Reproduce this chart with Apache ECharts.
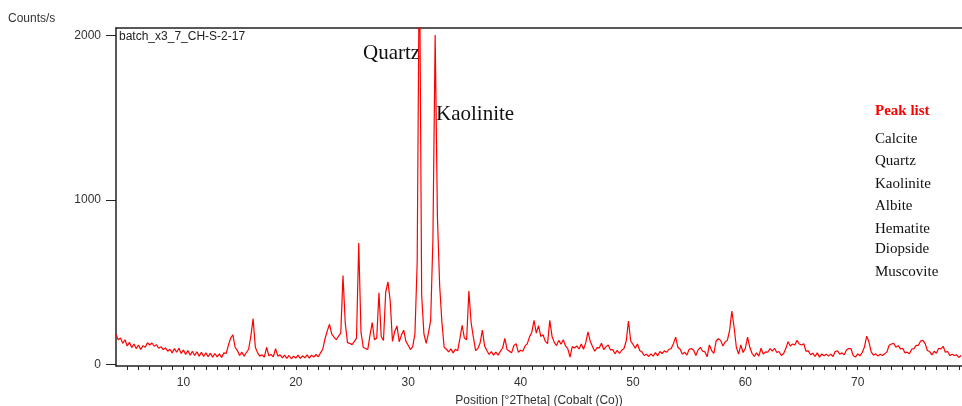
<!DOCTYPE html>
<html>
<head>
<meta charset="utf-8">
<script src="https://cdn.jsdelivr.net/npm/echarts@6/dist/echarts.min.js"></script>
<style>
  html, body { margin: 0; padding: 0; background: #fff; }
  #chart { width: 962px; height: 406px; }
</style>
</head>
<body>
<div id="chart"></div>
<script>
// scan grid: 2theta from 4.0 in steps of 0.2 degrees
const startAngle = 4.0
const stepAngle = 0.2

// counts/s, one row per 2 degrees
const counts = [
  182, 150, 160, 128, 150, 112, 134, 102, 124, 96,    // 4
  118, 90, 114, 104, 132, 118, 130, 110, 120, 98,     // 6
  108, 90, 100, 80, 92, 70, 96, 74, 98, 66,           // 8
  88, 60, 84, 56, 80, 54, 76, 50, 74, 48,             // 10
  70, 46, 68, 44, 66, 46, 64, 42, 70, 66,             // 12
  116, 160, 180, 104, 84, 54, 74, 50, 72, 92,         // 14
  172, 278, 104, 70, 50, 58, 44, 104, 52, 60,         // 16
  46, 96, 50, 58, 40, 56, 36, 54, 34, 50,             // 18
  38, 56, 36, 52, 40, 58, 38, 56, 44, 60,             // 20
  46, 70, 92, 156, 204, 244, 184, 166, 150, 172,      // 22
  190, 540, 250, 132, 128, 120, 138, 160, 738, 196,   // 24
  104, 96, 90, 176, 254, 150, 160, 436, 170, 146,     // 26
  440, 502, 386, 140, 200, 234, 138, 178, 208, 140,   // 28
  116, 90, 108, 186, 620, 2600, 420, 186, 128, 190,   // 30
  268, 760, 2005, 900, 480, 256, 104, 92, 76, 94,     // 32
  70, 92, 82, 156, 238, 160, 150, 446, 254, 166,      // 34
  84, 96, 130, 208, 112, 84, 60, 78, 56, 74,          // 36
  56, 80, 98, 158, 90, 80, 70, 114, 126, 74,          // 38
  86, 80, 112, 126, 168, 196, 268, 190, 236, 170,     // 40
  180, 140, 126, 268, 170, 134, 114, 146, 122, 150,   // 42
  112, 96, 44, 108, 100, 112, 94, 124, 92, 132,       // 44
  198, 140, 108, 80, 102, 100, 128, 90, 108, 118,     // 46
  88, 90, 64, 86, 66, 86, 96, 142, 264, 142,          // 48
  122, 98, 124, 84, 76, 54, 62, 48, 64, 50,           // 50
  72, 52, 78, 66, 82, 74, 92, 96, 126, 166,           // 52
  104, 92, 62, 74, 56, 92, 96, 86, 54, 88,            // 54
  104, 80, 76, 46, 118, 84, 66, 142, 156, 146,        // 56
  112, 136, 146, 206, 324, 226, 104, 62, 118, 72,     // 58
  98, 166, 104, 66, 48, 70, 50, 98, 62, 76,           // 60
  74, 96, 80, 98, 72, 78, 54, 64, 96, 138,            // 62
  112, 124, 118, 146, 124, 118, 126, 80, 82, 58,      // 64
  68, 48, 70, 44, 64, 52, 62, 50, 62, 48,             // 66
  78, 82, 62, 70, 58, 88, 96, 96, 54, 44,             // 68
  64, 52, 72, 106, 172, 136, 76, 56, 64, 50,          // 70
  62, 54, 64, 76, 116, 124, 128, 104, 114, 94,        // 72
  98, 70, 74, 64, 92, 96, 116, 116, 142, 146,         // 74
  126, 84, 78, 58, 80, 68, 98, 94, 110, 74,           // 76
  78, 54, 62, 54, 58, 42, 54                          // 78
]

const xTickLabels = [10, 20, 30, 40, 50, 60, 70]
const yTickLabels = [0, 1000, 2000]
const phases = ['Calcite', 'Quartz', 'Kaolinite', 'Albite', 'Hematite', 'Diopside', 'Muscovite']
const peakNotes = [
  { text: 'Quartz', x: 363, y: 64 },
  { text: 'Kaolinite', x: 436, y: 125 }
]

const xMin = 4.0
const xMax = 79.28
const xMinorTicks = []
for (let v = 5; v <= 79; v++) xMinorTicks.push(v)

const seriesData = counts.map((c, i) => [+(startAngle + stepAngle * i).toFixed(1), c])

const axisColor = '#222'
const labelColor = '#333'
const sans = '"Liberation Sans", Arial, sans-serif'
const serif = '"Liberation Serif", "Times New Roman", serif'

const chart = echarts.init(document.getElementById('chart'))

const graphics = [
  {
    type: 'text', left: 8, top: 13,
    style: { text: 'Counts/s', font: '12px ' + sans, fill: labelColor }
  },
  {
    type: 'text', left: 119, top: 31,
    style: { text: 'batch_x3_7_CH-S-2-17', font: '12px ' + sans, fill: '#222' }
  },
  {
    type: 'text', x: 875, y: 119,
    style: { text: 'Peak list', font: 'bold 15px ' + serif, fill: '#ff0000', textVerticalAlign: 'bottom' }
  }
]
peakNotes.forEach(n => {
  graphics.push({
    type: 'text', x: n.x, y: n.y,
    style: { text: n.text, font: '21px ' + serif, fill: '#111', textVerticalAlign: 'bottom' }
  })
})
const listBaselines = [142, 164, 187, 209, 232, 252, 275]
phases.forEach((p, i) => {
  graphics.push({
    type: 'text', x: 875, y: listBaselines[i] + 5,
    style: { text: p, font: '15px ' + serif, fill: '#111', textVerticalAlign: 'bottom' }
  })
})

chart.setOption({
  animation: false,
  backgroundColor: '#fff',
  grid: { left: 116, right: 0, top: 28, bottom: 40, outerBoundsMode: 'none', containLabel: false },
  xAxis: [
    {
      type: 'value',
      min: xMin,
      max: xMax,
      name: 'Position [°2Theta] (Cobalt (Co))',
      nameLocation: 'middle',
      nameGap: 29,
      nameTextStyle: { fontSize: 12, color: labelColor, fontFamily: sans },
      axisLine: { show: true, onZero: false, lineStyle: { color: axisColor, width: 1.5 } },
      axisTick: { show: true, length: 4, inside: false, customValues: xMinorTicks, lineStyle: { color: axisColor } },
      axisLabel: { customValues: xTickLabels, margin: 11, fontSize: 12, color: labelColor, fontFamily: sans },
      splitLine: { show: false }
    },
    {
      type: 'value',
      position: 'top',
      min: xMin,
      max: xMax,
      axisLine: { show: true, onZero: false, lineStyle: { color: axisColor, width: 1.5 } },
      axisTick: { show: false },
      axisLabel: { show: false },
      splitLine: { show: false }
    }
  ],
  yAxis: {
    type: 'value',
    min: -10,
    max: 2047,
    axisLine: { show: true, onZero: false, lineStyle: { color: axisColor, width: 1.5 } },
    axisTick: { show: true, length: 10, customValues: yTickLabels, lineStyle: { color: axisColor } },
    axisLabel: {
      customValues: yTickLabels, margin: 15, fontSize: 12, color: labelColor, fontFamily: sans,
      formatter: v => String(v)
    },
    splitLine: { show: false }
  },
  series: [
    {
      type: 'line',
      data: seriesData,
      showSymbol: false,
      sampling: 'none',
      clip: true,
      lineStyle: { color: '#ff0000', width: 1.2 },
      itemStyle: { color: '#ff0000' }
    }
  ],
  graphic: graphics
})

window.addEventListener('resize', () => chart.resize())
</script>
</body>
</html>
